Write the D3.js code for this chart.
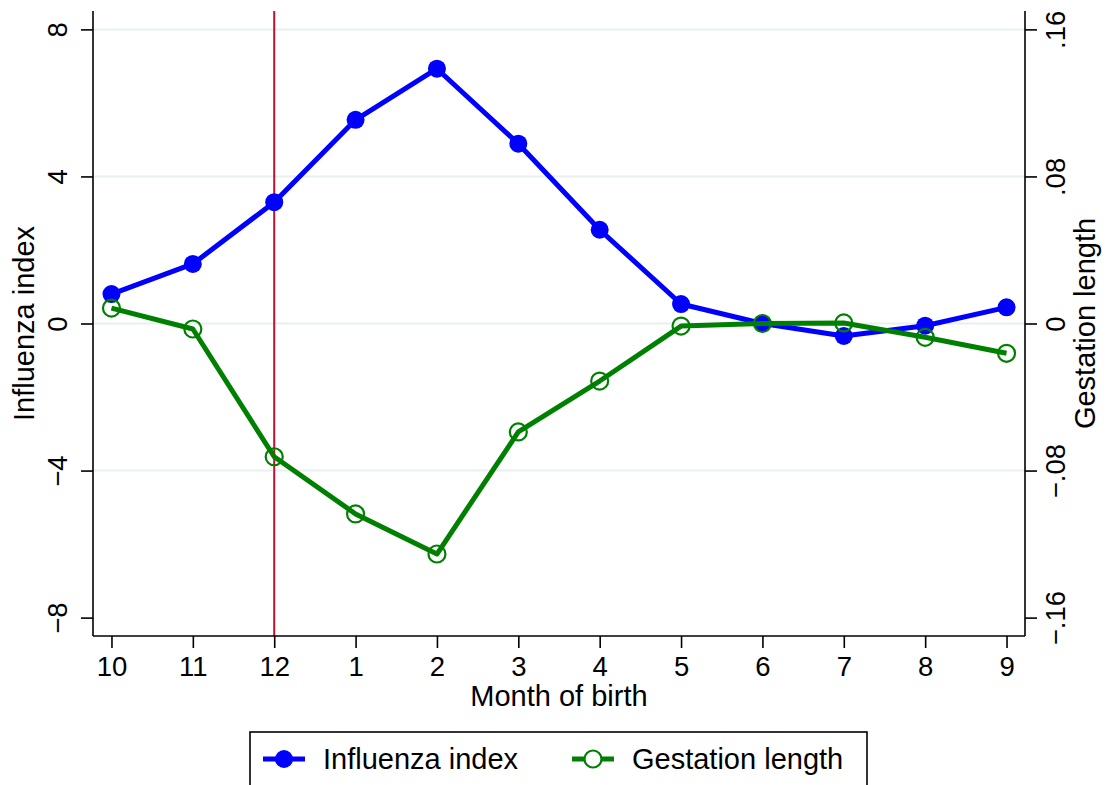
<!DOCTYPE html>
<html>
<head>
<meta charset="utf-8">
<script src="https://cdn.jsdelivr.net/npm/d3@7"></script>
<style>
  html, body { margin: 0; padding: 0; background: #fff; }
  svg { display: block; font-family: "Liberation Sans", Arial, Helvetica, sans-serif; }
</style>
</head>
<body>
<svg id="chart" width="1106" height="785"></svg>
<script>
// Month of birth, ordered from October through September
const months = ["10", "11", "12", "1", "2", "3", "4", "5", "6", "7", "8", "9"];

// Influenza index by month of birth (left axis)
const influenza = [0.80, 1.62, 3.30, 5.54, 6.93, 4.89, 2.55, 0.53, 0.00, -0.34, -0.06, 0.44];

// Gestation length by month of birth (right axis)
const gestation = [0.0084, -0.0030, -0.0725, -0.1036, -0.1254, -0.0590, -0.0313, -0.0014, 0.0000, 0.0003, -0.0075, -0.0162];

// Axis tick values and labels
const leftTicks = [8, 4, 0, -4, -8];
const rightTicks = [0.16, 0.08, 0, -0.08, -0.16];
const rightTickLabels = [".16", ".08", "0", "\u2212.08", "\u2212.16"];
const leftTickLabels = ["8", "4", "0", "\u22124", "\u22128"];
const gridValues = [8, 4, 0, -4];
const markerMonth = "12";

const svg = d3.select("#chart");
const plot = { left: 93, right: 1025, top: 11, bottom: 636 };

const x = d3.scalePoint()
  .domain(months)
  .range([plot.left, plot.right])
  .padding(0.227);

const yL = d3.scaleLinear().domain([-8.5, 8.5]).range([plot.bottom, plot.top]);
const yR = d3.scaleLinear().domain([-0.17, 0.17]).range([plot.bottom, plot.top]);

const fontTick = 27.5;
const fontTitle = 29;

// Horizontal grid lines
svg.append("g")
  .selectAll("line")
  .data(gridValues)
  .join("line")
  .attr("x1", plot.left).attr("x2", plot.right)
  .attr("y1", d => yL(d)).attr("y2", d => yL(d))
  .attr("stroke", "#e8f0f2")
  .attr("stroke-width", 2);

// Vertical reference line
svg.append("line")
  .attr("x1", x(markerMonth)).attr("x2", x(markerMonth))
  .attr("y1", plot.top).attr("y2", plot.bottom)
  .attr("stroke", "#c8102e")
  .attr("stroke-width", 2);

// Left axis
const leftAxis = svg.append("g")
  .attr("transform", `translate(${plot.left},0)`)
  .call(d3.axisLeft(yL).tickValues(leftTicks).tickSize(12).tickFormat((d, i) => leftTickLabels[i]));
leftAxis.select(".domain").attr("d", `M0,${plot.top}V${plot.bottom}`);
leftAxis.selectAll("line").attr("stroke-width", 1.6);
leftAxis.select(".domain").attr("stroke-width", 1.6);
leftAxis.selectAll("text")
  .attr("x", null).attr("dy", null)
  .attr("transform", "translate(-26,0) rotate(-90)")
  .attr("text-anchor", "middle")
  .attr("font-size", fontTick)
  .attr("font-family", "Liberation Sans, Arial, sans-serif")
  .attr("fill", "#000");

// Right axis
const rightAxis = svg.append("g")
  .attr("transform", `translate(${plot.right},0)`)
  .call(d3.axisRight(yR).tickValues(rightTicks).tickSize(12).tickFormat((d, i) => rightTickLabels[i]));
rightAxis.select(".domain").attr("d", `M0,${plot.top}V${plot.bottom}`);
rightAxis.selectAll("line").attr("stroke-width", 1.6);
rightAxis.select(".domain").attr("stroke-width", 1.6);
rightAxis.selectAll("text")
  .attr("x", null).attr("dy", null)
  .attr("transform", "translate(40,0) rotate(-90)")
  .attr("text-anchor", "middle")
  .attr("font-size", fontTick)
  .attr("font-family", "Liberation Sans, Arial, sans-serif")
  .attr("fill", "#000");

// Bottom axis
const bottomAxis = svg.append("g")
  .attr("transform", `translate(0,${plot.bottom})`)
  .call(d3.axisBottom(x).tickSize(12));
bottomAxis.select(".domain").attr("d", `M${plot.left},0H${plot.right}`).attr("stroke-width", 1.6);
bottomAxis.selectAll("line").attr("stroke-width", 1.6);
bottomAxis.selectAll("text")
  .attr("y", 40).attr("dy", null)
  .attr("font-size", fontTick)
  .attr("font-family", "Liberation Sans, Arial, sans-serif")
  .attr("fill", "#000");

// Axis titles
svg.append("text")
  .attr("x", (plot.left + plot.right) / 2).attr("y", 706)
  .attr("text-anchor", "middle")
  .attr("font-size", fontTitle)
  .text("Month of birth");

svg.append("text")
  .attr("transform", `translate(34,${(plot.top + plot.bottom) / 2}) rotate(-90)`)
  .attr("text-anchor", "middle")
  .attr("font-size", fontTitle)
  .text("Influenza index");

svg.append("text")
  .attr("transform", `translate(1095,${(plot.top + plot.bottom) / 2}) rotate(-90)`)
  .attr("text-anchor", "middle")
  .attr("font-size", fontTitle)
  .text("Gestation length");

// Series
const blue = "#0000ff";
const green = "#008000";

const lineL = d3.line().x((d, i) => x(months[i])).y(d => yL(d));
const lineR = d3.line().x((d, i) => x(months[i])).y(d => yR(d));

svg.append("path")
  .datum(influenza)
  .attr("d", lineL)
  .attr("fill", "none")
  .attr("stroke", blue)
  .attr("stroke-width", 5)
  .attr("stroke-linejoin", "round");

svg.append("g")
  .selectAll("circle")
  .data(influenza)
  .join("circle")
  .attr("cx", (d, i) => x(months[i]))
  .attr("cy", d => yL(d))
  .attr("r", 9)
  .attr("fill", blue);

svg.append("path")
  .datum(gestation)
  .attr("d", lineR)
  .attr("fill", "none")
  .attr("stroke", green)
  .attr("stroke-width", 5)
  .attr("stroke-linejoin", "round");

svg.append("g")
  .selectAll("circle")
  .data(gestation)
  .join("circle")
  .attr("cx", (d, i) => x(months[i]))
  .attr("cy", d => yR(d))
  .attr("r", 8.5)
  .attr("fill", "none")
  .attr("stroke", green)
  .attr("stroke-width", 2.2);

// Legend
const legend = svg.append("g");
legend.append("rect")
  .attr("x", 250).attr("y", 732)
  .attr("width", 617).attr("height", 80)
  .attr("fill", "#fff")
  .attr("stroke", "#000")
  .attr("stroke-width", 1.6);

const legendItems = [
  { label: "Influenza index", color: blue, filled: true, x0: 263 },
  { label: "Gestation length", color: green, filled: false, x0: 572 }
];
const li = legend.selectAll("g.item").data(legendItems).join("g").attr("class", "item");
li.append("line")
  .attr("x1", d => d.x0).attr("x2", d => d.x0 + 42)
  .attr("y1", 759).attr("y2", 759)
  .attr("stroke", d => d.color).attr("stroke-width", 5);
li.append("circle")
  .attr("cx", d => d.x0 + 21).attr("cy", 759)
  .attr("r", d => d.filled ? 9 : 8.5)
  .attr("fill", d => d.filled ? d.color : "#fff")
  .attr("stroke", d => d.filled ? "none" : d.color)
  .attr("stroke-width", 2.2);
li.append("text")
  .attr("x", d => d.x0 + 60).attr("y", 769)
  .attr("font-size", fontTitle)
  .text(d => d.label);
</script>
</body>
</html>
